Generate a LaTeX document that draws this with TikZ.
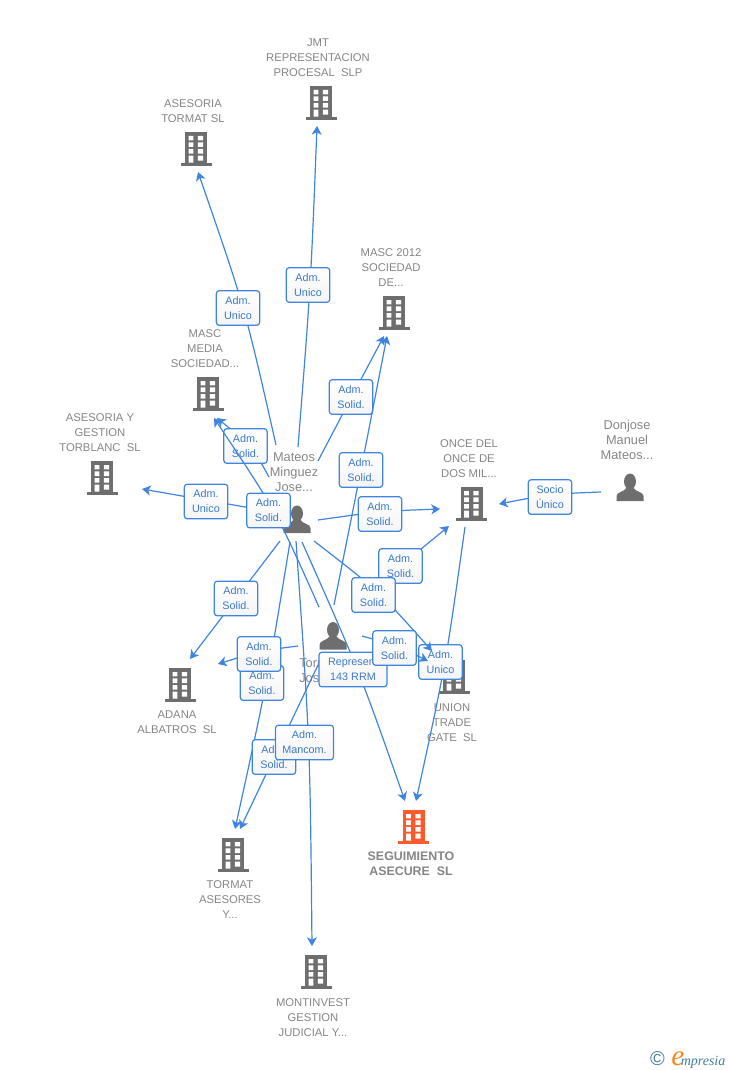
\documentclass[tikz,border=0pt]{standalone}
\usepackage{fontspec}
\setmainfont{Liberation Sans}
\newfontfamily\logoserif{Liberation Serif}
\usetikzlibrary{arrows.meta}
\definecolor{iconGray}{HTML}{6E6E6E}
\definecolor{iconOrange}{HTML}{FF5A2C}
\definecolor{nameGray}{HTML}{858585}
\definecolor{linkBlue}{HTML}{3F84E0}
\definecolor{logoTeal}{HTML}{3F7F98}
\definecolor{logoOrange}{HTML}{F08A24}
\tikzset{
  x=0.75pt,y=-0.75pt,
  link/.style={draw=linkBlue,line width=0.9pt},
  linkarrow/.style={link,-{Stealth[length=6.5pt,width=7.5pt,inset=1.8pt]}},
  lbl/.style={draw=linkBlue,line width=0.9pt,rounded corners=2.2pt,top color=white,bottom color=white!96!black,
    minimum width=32.5pt,minimum height=26pt,inner sep=0pt,align=center,text=linkBlue!92!black,
    font=\fontsize{8.1pt}{11.25pt}\selectfont,execute at begin node={\rule{0pt}{8.2pt}}},
  orgname/.style={inner sep=0pt,align=center,text=nameGray,font=\fontsize{8.45pt}{11.25pt}\selectfont},
  personname/.style={inner sep=0pt,align=center,text=nameGray,font=\fontsize{9.6pt}{11.25pt}\selectfont},
  mainname/.style={inner sep=0pt,align=center,text=nameGray,font=\fontsize{9.3pt}{11.25pt}\bfseries\selectfont},
  pics/bldg/.style={code={
    \fill[#1] (-11,-17.3) rectangle (11,14.5);
    \fill[#1] (-15.5,13.7) rectangle (15.5,16.7);
    \fill[white] (-7.5,-13) rectangle (-2.7,-8.7) (1.8,-13) rectangle (7.2,-8.7)
      (-7.5,-6.7) rectangle (-2.7,-2) (1.8,-6.7) rectangle (7.2,-2)
      (-7.5,0) rectangle (-2.7,4.7) (1.8,0) rectangle (7.2,4.7)
      (-7.5,6.7) rectangle (-2.7,13.7) (1.8,6.7) rectangle (7.2,11.7);
  }},
  pics/human/.style={code={
    \fill[iconGray] (0,-5.5) ellipse [x radius=6,y radius=8];
    \fill[iconGray] (-13.5,14) -- (-13.5,9) .. controls (-13.5,5) and (-6,5) .. (-3.5,1)
      -- (3.5,1) .. controls (6,5) and (13.5,5) .. (13.5,9) -- (13.5,14) -- cycle;
  }}
}
\begin{document}
\begin{tikzpicture}
\useasboundingbox (0,0) rectangle (728,1070);
% icons
\pic at (321,103) {bldg=iconGray};
\pic at (196,149) {bldg=iconGray};
\pic at (394,313) {bldg=iconGray};
\pic at (208,394) {bldg=iconGray};
\pic at (102,478) {bldg=iconGray};
\pic at (471.5,504) {bldg=iconGray};
\pic at (454,677) {bldg=iconGray};
\pic at (180,685) {bldg=iconGray};
\pic at (413.5,827) {bldg=iconOrange};
\pic at (233,855) {bldg=iconGray};
\pic at (316,972) {bldg=iconGray};
\pic at (630,487) {human};
\pic at (297,519) {human};
\pic at (333,635.5) {human};
% names
\node[orgname] (jmt) at (318,58) {JMT\\REPRESENTACION\\PROCESAL~~SLP};
\node[orgname] (tormatsl) at (193,111.5) {ASESORIA\\TORMAT SL};
\node[orgname] (masc2012) at (391,268) {MASC 2012\\SOCIEDAD\\DE...};
\node[orgname] (mascmedia) at (205,349) {MASC\\MEDIA\\SOCIEDAD...};
\node[orgname] (torblanc) at (100,433) {ASESORIA Y\\GESTION\\TORBLANC~~SL};
\node[orgname] (once) at (469,459) {ONCE DEL\\ONCE DE\\DOS MIL...};
\node[personname] (donjose) at (627,440) {Donjose\\Manuel\\Mateos...};
\node[personname] (mateos) at (294,472) {Mateos\\Minguez\\Jose...};
\node[personname,align=left,anchor=west] (torres) at (299,670.5) {Torr\\Jos};
\node[orgname] (adana) at (177,722.5) {ADANA\\ALBATROS~~SL};
\node[orgname] (union) at (452,723) {UNION\\TRADE\\GATE~~SL};
\node[mainname] (seg) at (411,864) {SEGUIMIENTO\\ASECURE~~SL};
\node[orgname] (tormatas) at (230,900) {TORMAT\\ASESORES\\Y...};
\node[orgname] (mont) at (313,1018) {MONTINVEST\\GESTION\\JUDICIAL Y...};
% connector ends (s, e), bends (c) and label places (m)
\foreach \n/\p in {
 s1/{298,447},c1/{310.8,284.5},e1/{317,126},m1/{308,285},
 s2/{276,445},c2/{245,307.8},e2/{198,172},m2/{238,308},
 s3/{318,461},c3/{351,398},e3/{384,336},m3/{351,397},
 s4/{334,605},c4/{361,470},e4/{387,336},m4/{361,470},
 s5/{269,477},c5/{252.3,446.8},e5/{217,418},m5/{245.5,446},
 s6/{319,607},c6/{276.5,511.8},e6/{214,418},m6/{268.5,510.5},
 s7/{268,511},c7/{205,500},e7/{142,489},m7/{206,501.5},
 s8/{318,520},c8/{380.3,511.2},e8/{440,509},m8/{380,514},
 s9/{360,600},c9/{404,563},e9/{449,526},m9/{400.5,566},
 s10/{314,541},c10/{378.3,590.7},e10/{432,651},m10/{373.5,595},
 s11/{362,636},c11/{396.3,645.5},e11/{428,661},m11/{394.5,648},
 s12/{465,527},c12/{445.8,664},e12/{416,801},m12/{440.5,662},
 s13/{601,492},c13/{550,494},e13/{499,504},m13/{550,497},
 s14/{280,541},c14/{235,600},e14/{190,659},m14/{236,598.5},
 s15/{298,646},c15/{259.3,651},e15/{218,664},m15/{259,654},
 s16/{290,542},c16/{266.5,685.5},e16/{235,829},m16/{262,683},
 s17/{318,665},c17/{279,747},e17/{240,829},m17/{274,757},
 s18/{296,541},c18/{310,742.8},e18/{312,946},m18/{304.5,742.5},
 s19/{302,542},c19/{359.5,671.5},e19/{405,801},m19/{353,669.5}}
 {\coordinate (\n) at (\p);}
% connectors with their labels, bottom to top
\draw[linkarrow] (s12) .. controls (c12) .. (e12); \node[lbl] (l12) at (m12) {Adm.\\Unico};
\draw[linkarrow] (s1) .. controls (c1) .. (e1); \node[lbl] (l1) at (m1) {Adm.\\Unico};
\draw[linkarrow] (s2) .. controls (c2) .. (e2); \node[lbl] (l2) at (m2) {Adm.\\Unico};
\draw[linkarrow] (s3) .. controls (c3) .. (e3); \node[lbl] (l3) at (m3) {Adm.\\Solid.};
\draw[linkarrow] (s4) .. controls (c4) .. (e4); \node[lbl] (l4) at (m4) {Adm.\\Solid.};
\draw[linkarrow] (s5) .. controls (c5) .. (e5); \node[lbl] (l5) at (m5) {Adm.\\Solid.};
\draw[linkarrow] (s7) .. controls (c7) .. (e7); \node[lbl] (l7) at (m7) {Adm.\\Unico};
\draw[linkarrow] (s6) .. controls (c6) .. (e6); \node[lbl] (l6) at (m6) {Adm.\\Solid.};
\draw[linkarrow] (s8) .. controls (c8) .. (e8); \node[lbl] (l8) at (m8) {Adm.\\Solid.};
\draw[linkarrow] (s9) .. controls (c9) .. (e9); \node[lbl] (l9) at (m9) {Adm.\\Solid.};
\draw[linkarrow] (s10) .. controls (c10) .. (e10); \node[lbl] (l10) at (m10) {Adm.\\Solid.};
\draw[linkarrow] (s19) .. controls (c19) .. (e19); \node[lbl,minimum width=51pt] (l19) at (m19) {Represent\hspace{4pt}\\143 RRM};
\draw[linkarrow] (s11) .. controls (c11) .. (e11); \node[lbl] (l11) at (m11) {Adm.\\Solid.};
\draw[linkarrow] (s13) .. controls (c13) .. (e13); \node[lbl] (l13) at (m13) {Socio\\Único};
\draw[linkarrow] (s14) .. controls (c14) .. (e14); \node[lbl] (l14) at (m14) {Adm.\\Solid.};
\draw[linkarrow] (s16) .. controls (c16) .. (e16); \node[lbl] (l16) at (m16) {Adm.\\Solid.};
\draw[linkarrow] (s15) .. controls (c15) .. (e15); \node[lbl] (l15) at (m15) {Adm.\\Solid.};
\draw[linkarrow] (s17) .. controls (c17) .. (e17); \node[lbl] (l17) at (m17) {Adm.\\Solid.};
\draw[linkarrow] (s18) .. controls (c18) .. (e18); \node[lbl,minimum width=43.5pt] (l18) at (m18) {Adm.\\Mancom.};
% logo
\node[inner sep=0pt,text=logoTeal,font=\fontsize{15pt}{15pt}\selectfont] (copyr) at (657.5,1059) {©};
\node[inner sep=0pt,anchor=base west,text=logoOrange,font=\fontsize{22pt}{22pt}\logoserif\itshape\selectfont] (loge) at (671,1065) {e};
\node[inner sep=0pt,anchor=base west,text=logoTeal,font=\fontsize{10.5pt}{10.5pt}\logoserif\itshape\selectfont] (logm) at (680.5,1065) {mpresia};
\end{tikzpicture}
\end{document}
